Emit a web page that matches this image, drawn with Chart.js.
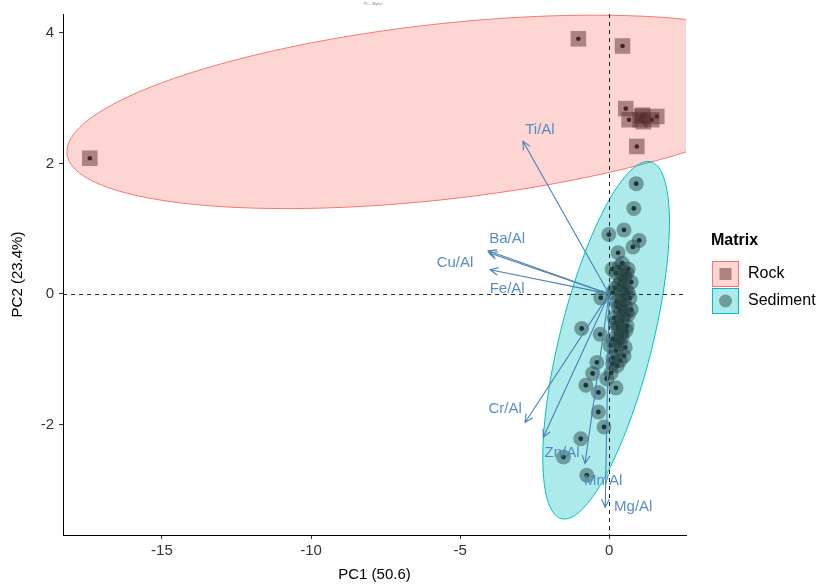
<!DOCTYPE html>
<html>
<head>
<meta charset="utf-8">
<script src="https://cdn.jsdelivr.net/npm/chart.js@4.4.1/dist/chart.umd.min.js"></script>
<style>
  html, body { margin: 0; padding: 0; background: #fff; }
  canvas { display: block; }
</style>
</head>
<body>
<canvas id="chart" width="839" height="586"></canvas>
<script>
// === data ===

// axis ranges and ticks
const PC1_RANGE = [-18.32, 2.58];
const PC2_RANGE = [-3.695, 4.29];
const PC1_TICKS = [-15, -10, -5, 0];
const PC2_TICKS = [-2, 0, 2, 4];

// Rock samples
const rockPC1 = [-17.42, -1.03, 0.45, 0.56, 0.67, 1.10, 1.04, 1.15, 1.12, 1.43, 1.60, 0.93];
const rockPC2 = [2.08, 3.91, 3.80, 2.84, 2.67, 2.72, 2.67, 2.64, 2.74, 2.67, 2.72, 2.26];

// Sediment samples
const sedPC1 = [
  0.91, 0.83, -0.01, 0.50, 1.01, 0.80, 0.30, 0.10, -0.28, -0.92, -0.30, 0.43,
  -0.41, 0.12, -0.55, -0.08, -0.78, -0.36, 0.23, -0.36, -0.17, -0.95, -1.53, -0.75,
  0.44, 0.64, 0.23, 0.54, 0.74, 0.34, 0.57, 0.13, 0.44, 0.70, 0.27, 0.54,
  0.37, 0.64, 0.17, 0.44, 0.30, 0.57, 0.13, 0.37, 0.23, 0.50, 0.03, 0.27, 0.07,
  0.34, 0.60, 0.40, 0.20, 0.64, 0.50, 0.30, 0.74, 0.47, 0.23, 0.60, 0.40,
  0.27, 0.54, 0.13, 0.37, 0.47, 0.40, 0.57, 0.30, 0.50, 0.44,
];
const sedPC2 = [
  1.69, 1.31, 0.91, 0.98, 0.82, 0.72, 0.63, 0.38, -0.06, -0.53, -0.62, -0.61,
  -1.05, -1.07, -1.22, -1.30, -1.40, -1.51, -1.44, -1.81, -2.04, -2.22, -2.50, -2.78,
  0.47, 0.38, 0.32, 0.26, 0.18, 0.14, 0.06, 0.02, -0.03, -0.06, -0.12, -0.18,
  -0.26, -0.32, -0.37, -0.41, -0.50, -0.56, -0.69, -0.76, -0.87, -0.95, -0.79, -1.10, -1.21,
  0.41, 0.32, 0.21, 0.09, 0.02, -0.09, -0.20, -0.24, -0.34, -0.44, -0.49, -0.61,
  -0.72, -0.82, -0.98, -1.02, 0.12, -0.15, -0.29, -0.53, 0.28, -0.66,
];

// confidence ellipses: centre and two conjugate semi-axes [cx, cy, ax, ay, bx, by]
const rockEllipse = [-5.67, 2.79, 12.52, 0.61, 0, 1.351];
const sedEllipse = [-0.10, -0.71, 1.60, 0, 1.397, 2.74];

// variable loadings (arrows from origin)
const varNames = ["Ti/Al", "Ba/Al", "Cu/Al", "Fe/Al", "Cr/Al", "Zn/Al", "Mn/Al", "Mg/Al"];
const varPC1 = [-2.89, -4.06, -4.03, -3.99, -2.82, -2.21, -0.81, -0.13];
const varPC2 = [2.34, 0.66, 0.63, 0.37, -1.97, -2.20, -2.60, -3.27];
// where the (repelled) labels sit
const labelPC1 = [-2.32, -3.42, -5.17, -3.42, -3.49, -1.58, -0.20, 0.81];
const labelPC2 = [2.52, 0.85, 0.47, 0.08, -1.76, -2.44, -2.87, -3.27];

const FONT = '"Liberation Sans", Arial, sans-serif';

function toPoints(xs, ys) {
  return xs.map((x, i) => ({ x, y: ys[i] }));
}

function ellipsePath(ctx, sx, sy, e) {
  const [cx, cy, ax, ay, bx, by] = e;
  ctx.beginPath();
  for (let i = 0; i <= 120; i++) {
    const t = (i / 120) * Math.PI * 2;
    const px = sx.getPixelForValue(cx + ax * Math.cos(t) + bx * Math.sin(t));
    const py = sy.getPixelForValue(cy + ay * Math.cos(t) + by * Math.sin(t));
    if (i === 0) ctx.moveTo(px, py); else ctx.lineTo(px, py);
  }
  ctx.closePath();
}

// ellipses + dashed zero lines, under the points
const backdrop = {
  id: "backdrop",
  beforeDatasetsDraw(chart) {
    const { ctx, chartArea: a, scales } = chart;
    const sx = scales.x, sy = scales.y;
    ctx.save();
    ctx.beginPath();
    ctx.rect(a.left, a.top, a.right - a.left, a.bottom - a.top);
    ctx.clip();

    ellipsePath(ctx, sx, sy, rockEllipse);
    ctx.fillStyle = "rgba(248,118,109,0.30)";
    ctx.fill();
    ctx.strokeStyle = "#f8766d";
    ctx.lineWidth = 1;
    ctx.stroke();

    ellipsePath(ctx, sx, sy, sedEllipse);
    ctx.fillStyle = "rgba(0,191,196,0.32)";
    ctx.fill();
    ctx.strokeStyle = "#00bfc4";
    ctx.stroke();

    // zero lines
    ctx.setLineDash([4, 4]);
    ctx.strokeStyle = "#222";
    ctx.lineWidth = 1;
    const x0 = Math.round(sx.getPixelForValue(0)) + 0.5;
    const y0 = Math.round(sy.getPixelForValue(0)) + 0.5;
    ctx.beginPath();
    ctx.moveTo(a.left, y0); ctx.lineTo(a.right, y0);
    ctx.moveTo(x0, a.top); ctx.lineTo(x0, a.bottom);
    ctx.stroke();
    ctx.restore();
  },
};

// loading arrows, their labels, the legend and the title
const overlay = {
  id: "overlay",
  afterDatasetsDraw(chart) {
    const { ctx, scales } = chart;
    const sx = scales.x, sy = scales.y;
    const ox = sx.getPixelForValue(0), oy = sy.getPixelForValue(0);

    ctx.save();
    ctx.strokeStyle = "#4682b4";
    ctx.lineWidth = 1.1;
    varNames.forEach((name, i) => {
      const tx = sx.getPixelForValue(varPC1[i]);
      const ty = sy.getPixelForValue(varPC2[i]);
      const ang = Math.atan2(ty - oy, tx - ox);
      const len = 9;
      ctx.beginPath();
      ctx.moveTo(ox, oy);
      ctx.lineTo(tx, ty);
      ctx.moveTo(tx - len * Math.cos(ang - 0.45), ty - len * Math.sin(ang - 0.45));
      ctx.lineTo(tx, ty);
      ctx.lineTo(tx - len * Math.cos(ang + 0.45), ty - len * Math.sin(ang + 0.45));
      ctx.stroke();
    });

    ctx.font = `15px ${FONT}`;
    ctx.fillStyle = "rgba(70,130,190,0.9)";
    ctx.textAlign = "center";
    ctx.textBaseline = "middle";
    varNames.forEach((name, i) => {
      ctx.fillText(name, sx.getPixelForValue(labelPC1[i]), sy.getPixelForValue(labelPC2[i]));
    });

    // legend
    ctx.textAlign = "left";
    ctx.fillStyle = "#000";
    ctx.font = `bold 16px ${FONT}`;
    ctx.fillText("Matrix", 711, 241);

    ctx.lineWidth = 1;
    ctx.fillStyle = "rgba(248,118,109,0.30)";
    ctx.fillRect(712, 261, 26, 25);
    ctx.strokeStyle = "#f8766d";
    ctx.strokeRect(712.5, 261.5, 26, 25);
    ctx.fillStyle = "rgba(90,50,50,0.5)";
    ctx.fillRect(719.5, 268, 12, 12);

    ctx.fillStyle = "rgba(0,191,196,0.32)";
    ctx.fillRect(712, 288, 26, 25);
    ctx.strokeStyle = "#00bfc4";
    ctx.strokeRect(712.5, 288.5, 26, 25);
    ctx.fillStyle = "rgba(40,70,70,0.48)";
    ctx.beginPath();
    ctx.arc(725.5, 301, 6.5, 0, Math.PI * 2);
    ctx.fill();

    ctx.fillStyle = "#000";
    ctx.font = `16px ${FONT}`;
    ctx.fillText("Rock", 748, 274);
    ctx.fillText("Sediment", 748, 301);

    // tiny plot title
    ctx.fillStyle = "#888";
    ctx.font = `4px ${FONT}`;
    ctx.textAlign = "center";
    ctx.fillText("PC - Biplot", 373, 4);
    ctx.restore();
  },
};

function fixedTicks(values) {
  return (scale) => { scale.ticks = values.map((v) => ({ value: v })); };
}

new Chart(document.getElementById("chart"), {
  type: "scatter",
  data: {
    datasets: [
      {
        label: "Rock",
        data: toPoints(rockPC1, rockPC2),
        pointStyle: "rect",
        pointRadius: 11,
        backgroundColor: "rgba(90,50,50,0.5)",
        borderWidth: 0,
      },
      {
        label: "Sediment",
        data: toPoints(sedPC1, sedPC2),
        pointStyle: "circle",
        pointRadius: 7.5,
        backgroundColor: "rgba(40,70,70,0.48)",
        borderWidth: 0,
      },
      {
        label: "rock-dot",
        data: toPoints(rockPC1, rockPC2),
        pointRadius: 2.3,
        backgroundColor: "#3a1212",
        borderWidth: 0,
      },
      {
        label: "sed-dot",
        data: toPoints(sedPC1, sedPC2),
        pointRadius: 2.4,
        backgroundColor: "#0a2a2a",
        borderWidth: 0,
      },
    ],
  },
  options: {
    responsive: false,
    animation: false,
    events: [],
    layout: { padding: { left: 0, top: 12, right: 153, bottom: 0 } },
    plugins: {
      legend: { display: false },
      tooltip: { enabled: false },
    },
    scales: {
      x: {
        type: "linear",
        min: PC1_RANGE[0],
        max: PC1_RANGE[1],
        afterBuildTicks: fixedTicks(PC1_TICKS),
        afterFit: (s) => { s.height = 51; },
        grid: { drawOnChartArea: false, drawTicks: true, tickLength: 4, color: "#333" },
        border: { display: true, color: "#000", width: 1 },
        ticks: { color: "#333", font: { family: FONT, size: 15 }, padding: 3, maxRotation: 0 },
        title: {
          display: true,
          text: "PC1 (50.6)",
          color: "#000",
          font: { family: FONT, size: 15 },
          padding: { top: 0, bottom: 2 },
        },
      },
      y: {
        type: "linear",
        min: PC2_RANGE[0],
        max: PC2_RANGE[1],
        afterBuildTicks: fixedTicks(PC2_TICKS),
        afterFit: (s) => { s.width = 63; },
        grid: { drawOnChartArea: false, drawTicks: true, tickLength: 4, color: "#333" },
        border: { display: true, color: "#000", width: 1 },
        ticks: { color: "#333", font: { family: FONT, size: 15 }, padding: 5 },
        title: {
          display: true,
          text: "PC2 (23.4%)",
          color: "#000",
          font: { family: FONT, size: 15 },
          padding: { top: 9, bottom: 0 },
        },
      },
    },
  },
  plugins: [backdrop, overlay],
});
</script>
</body>
</html>
